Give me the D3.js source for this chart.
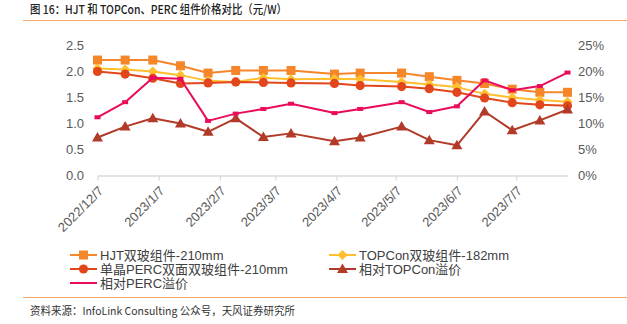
<!DOCTYPE html>
<html><head><meta charset="utf-8">
<script src="https://cdn.jsdelivr.net/npm/d3@7/dist/d3.min.js"></script>
<style>
body{margin:0;background:#fff;}
svg{display:block;}
</style></head>
<body>
<svg id="c" width="627" height="324"></svg>
<script>
const dates = ["2022-12-07","2022-12-21","2023-01-04","2023-01-18","2023-02-01","2023-02-15","2023-03-01","2023-03-15","2023-04-06","2023-04-19","2023-05-10","2023-05-24","2023-06-07","2023-06-21","2023-07-05","2023-07-19","2023-08-02"];
const hjt   = [2.22,2.22,2.22,2.11,1.97,2.02,2.02,2.02,1.95,1.97,1.97,1.90,1.83,1.77,1.66,1.60,1.60];
const topcon= [2.06,2.04,2.00,1.93,1.82,1.80,1.88,1.85,1.86,1.85,1.80,1.75,1.70,1.57,1.50,1.45,1.42];
const perc  = [2.00,1.95,1.87,1.77,1.78,1.80,1.79,1.78,1.77,1.73,1.71,1.67,1.60,1.49,1.40,1.36,1.34];
const premTop  = [7.3,9.4,11.0,10.0,8.4,11.0,7.4,8.1,6.6,7.3,9.4,6.8,5.8,12.3,8.7,10.6,12.7];
const premPerc = [11.2,14.1,18.8,18.6,10.5,11.9,12.8,13.8,12.0,12.8,14.1,12.2,13.3,18.3,16.4,17.2,19.8];
const xTicks = ["2022-12-07","2023-01-07","2023-02-07","2023-03-07","2023-04-07","2023-05-07","2023-06-07","2023-07-07"];
const leftTicks = [0,0.5,1.0,1.5,2.0,2.5];
const rightTicks = [0,5,10,15,20,25];
const names = ["HJT双玻组件-210mm","TOPCon双玻组件-182mm","单晶PERC双面双玻组件-210mm","相对TOPCon溢价","相对PERC溢价"];
const title = "图 16：HJT 和 TOPCon、PERC 组件价格对比（元/W）";
const source = "资料来源：InfoLink Consulting 公众号，天风证券研究所";

const parse = d3.timeParse("%Y-%m-%d");
const D = dates.map(parse);
const svg = d3.select("#c");
const font = "'Liberation Sans', Arial, 'Noto Sans CJK SC', sans-serif";

// title
svg.append("text").attr("x",30).attr("y",14).attr("font-family","'Noto Sans CJK SC', sans-serif")
  .attr("font-size",12).attr("font-weight",500).attr("fill","#222")
  .attr("textLength",257).attr("lengthAdjust","spacingAndGlyphs").text(title);
svg.append("line").attr("x1",23).attr("x2",627).attr("y1",20.5).attr("y2",20.5).attr("stroke","#f5a669").attr("stroke-width",1);
svg.append("line").attr("x1",23).attr("x2",627).attr("y1",297.5).attr("y2",297.5).attr("stroke","#f5a669").attr("stroke-width",1);
svg.append("text").attr("x",30).attr("y",315).attr("font-family","'Noto Sans CJK SC', sans-serif")
  .attr("font-size",11).attr("fill","#333")
  .attr("textLength",265).attr("lengthAdjust","spacingAndGlyphs").text(source);

const x = d3.scaleTime().domain([D[0], D[D.length-1]]).range([97.5,567.5]);
const yL = d3.scaleLinear().domain([0,2.5]).range([175.5,45.5]);
const yR = d3.scaleLinear().domain([0,25]).range([175.5,45.5]);

// axes
const xa = svg.append("g").attr("transform","translate(0,175.5)")
  .call(d3.axisBottom(x).tickValues(xTicks.map(parse)).tickSize(5).tickSizeOuter(0)
  .tickFormat(d => d.getFullYear()+"/"+(d.getMonth()+1)+"/"+d.getDate()));
xa.select(".domain").attr("stroke","#d9d9d9").attr("stroke-width",1.5);
xa.selectAll(".tick line").attr("stroke","#d9d9d9").attr("stroke-width",1.2);
xa.selectAll(".tick text").attr("font-family","'Liberation Sans Narrow', 'Arial Narrow', 'Liberation Sans', sans-serif")
  .attr("font-size",13).attr("fill","#595959")
  .attr("text-anchor","end").attr("dy","0.35em").attr("y",0).attr("x",0)
  .attr("transform","translate(3,13) rotate(-45)");

const la = svg.append("g").attr("transform","translate(84,0)")
  .call(d3.axisLeft(yL).tickValues(leftTicks).tickSize(0).tickFormat(d3.format(".1f")));
la.select(".domain").remove();
la.selectAll("text").attr("font-family",font).attr("font-size",13).attr("fill","#595959").attr("x",0);

const ra = svg.append("g").attr("transform","translate(578,0)")
  .call(d3.axisRight(yR).tickValues(rightTicks).tickSize(0).tickFormat(d=>d+"%"));
ra.select(".domain").remove();
ra.selectAll("text").attr("font-family",font).attr("font-size",13).attr("fill","#595959").attr("x",0);

const series = [
  {vals:hjt, y:yL, color:"#f5862a", marker:"square"},
  {vals:topcon, y:yL, color:"#ffbf2e", marker:"diamond"},
  {vals:perc, y:yL, color:"#e2461b", marker:"circle"},
  {vals:premTop, y:yR, color:"#b23a28", marker:"triangle"},
  {vals:premPerc, y:yR, color:"#ea0b5c", marker:"dash"}
];

function marker(g, type, cx, cy, color){
  if(type==="square") g.append("rect").attr("x",cx-4.5).attr("y",cy-4.5).attr("width",9).attr("height",9).attr("fill",color);
  else if(type==="circle") g.append("circle").attr("cx",cx).attr("cy",cy).attr("r",4.6).attr("fill",color);
  else if(type==="diamond") g.append("path").attr("d",`M${cx},${cy-5}L${cx+5},${cy}L${cx},${cy+5}L${cx-5},${cy}Z`).attr("fill",color);
  else if(type==="triangle") g.append("path").attr("d",`M${cx},${cy-5.5}L${cx+5.5},${cy+4}L${cx-5.5},${cy+4}Z`).attr("fill",color);
  else if(type==="dash") g.append("rect").attr("x",cx-3).attr("y",cy-2).attr("width",6).attr("height",4).attr("fill",color);
}

series.forEach(s=>{
  const g = svg.append("g");
  const line = d3.line().x((d,i)=>x(D[i])).y(d=>s.y(d));
  g.append("path").attr("d",line(s.vals)).attr("fill","none").attr("stroke",s.color).attr("stroke-width",2).attr("stroke-linejoin","round");
  s.vals.forEach((v,i)=>marker(g,s.marker,x(D[i]),s.y(v),s.color));
});

// legend
const legPos = [[70,255],[329,255],[70,269],[329,269],[70,283]];
series.forEach((s,i)=>{
  const [lx,ly] = legPos[i];
  const g = svg.append("g");
  g.append("line").attr("x1",lx).attr("x2",lx+27).attr("y1",ly).attr("y2",ly).attr("stroke",s.color).attr("stroke-width",2);
  if(s.marker!=="dash") marker(g,s.marker,lx+13.5,ly,s.color);
  g.append("text").attr("x",lx+30).attr("y",ly).attr("dy","0.36em").attr("font-family",font)
    .attr("font-size",13).attr("fill","#404040").text(names[i]);
});
</script>
</body></html>
